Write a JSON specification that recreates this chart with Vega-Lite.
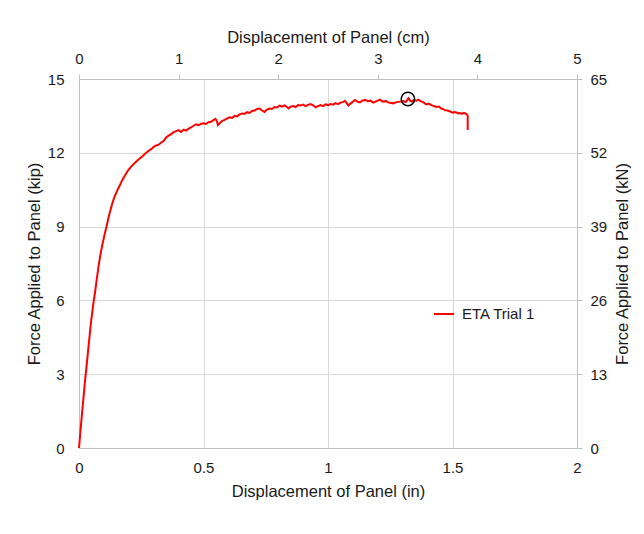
{
  "$schema": "https://vega.github.io/schema/vega-lite/v6.json",
  "width": 498,
  "height": 369,
  "autosize": {"type": "none"},
  "padding": {"left": 79, "top": 79, "right": 67, "bottom": 86},
  "background": "white",
  "config": {
    "font": "Liberation Sans",
    "view": {"stroke": null},
    "axis": {
      "labelFont": "Liberation Sans",
      "titleFont": "Liberation Sans",
      "labelFontSize": 15,
      "titleFontSize": 16.5,
      "titleFontWeight": "normal",
      "labelColor": "#1a1a1a",
      "titleColor": "#1a1a1a",
      "domainColor": "#bfbfbf",
      "tickColor": "#bfbfbf",
      "gridColor": "#d9d9d9",
      "gridWidth": 1,
      "domainWidth": 1,
      "labelOverlap": false
    }
  },
  "datasets": {
    "curve": [
      {"i": 1, "d": 0, "f": 0},
      {"i": 2, "d": 0.006, "f": 0.7},
      {"i": 3, "d": 0.012, "f": 1.4},
      {"i": 4, "d": 0.018, "f": 2.05},
      {"i": 5, "d": 0.024, "f": 2.7},
      {"i": 6, "d": 0.03, "f": 3.3},
      {"i": 7, "d": 0.036, "f": 3.9},
      {"i": 8, "d": 0.042, "f": 4.5},
      {"i": 9, "d": 0.048, "f": 5.1},
      {"i": 10, "d": 0.058, "f": 5.9},
      {"i": 11, "d": 0.064, "f": 6.3},
      {"i": 12, "d": 0.071, "f": 6.83},
      {"i": 13, "d": 0.078, "f": 7.35},
      {"i": 14, "d": 0.085, "f": 7.8},
      {"i": 15, "d": 0.092, "f": 8.18},
      {"i": 16, "d": 0.098, "f": 8.46},
      {"i": 17, "d": 0.105, "f": 8.78},
      {"i": 18, "d": 0.111, "f": 9.02},
      {"i": 19, "d": 0.118, "f": 9.35},
      {"i": 20, "d": 0.125, "f": 9.62},
      {"i": 21, "d": 0.132, "f": 9.88},
      {"i": 22, "d": 0.138, "f": 10.08},
      {"i": 23, "d": 0.145, "f": 10.27},
      {"i": 24, "d": 0.152, "f": 10.42},
      {"i": 25, "d": 0.158, "f": 10.56},
      {"i": 26, "d": 0.165, "f": 10.7},
      {"i": 27, "d": 0.172, "f": 10.86},
      {"i": 28, "d": 0.18, "f": 11.0},
      {"i": 29, "d": 0.188, "f": 11.14},
      {"i": 30, "d": 0.198, "f": 11.3},
      {"i": 31, "d": 0.208, "f": 11.42},
      {"i": 32, "d": 0.22, "f": 11.55},
      {"i": 33, "d": 0.232, "f": 11.67},
      {"i": 34, "d": 0.245, "f": 11.78},
      {"i": 35, "d": 0.255, "f": 11.86},
      {"i": 36, "d": 0.265, "f": 11.96},
      {"i": 37, "d": 0.275, "f": 12.04},
      {"i": 38, "d": 0.285, "f": 12.12},
      {"i": 39, "d": 0.292, "f": 12.16},
      {"i": 40, "d": 0.3, "f": 12.24},
      {"i": 41, "d": 0.31, "f": 12.3},
      {"i": 42, "d": 0.32, "f": 12.33},
      {"i": 43, "d": 0.33, "f": 12.42},
      {"i": 44, "d": 0.34, "f": 12.48},
      {"i": 45, "d": 0.35, "f": 12.62},
      {"i": 46, "d": 0.36, "f": 12.7},
      {"i": 47, "d": 0.37, "f": 12.76},
      {"i": 48, "d": 0.38, "f": 12.84},
      {"i": 49, "d": 0.39, "f": 12.88},
      {"i": 50, "d": 0.4, "f": 12.92},
      {"i": 51, "d": 0.41, "f": 12.85},
      {"i": 52, "d": 0.42, "f": 12.94},
      {"i": 53, "d": 0.43, "f": 12.9},
      {"i": 54, "d": 0.44, "f": 12.98},
      {"i": 55, "d": 0.45, "f": 13.03},
      {"i": 56, "d": 0.46, "f": 13.1},
      {"i": 57, "d": 0.47, "f": 13.16},
      {"i": 58, "d": 0.48, "f": 13.12},
      {"i": 59, "d": 0.49, "f": 13.18},
      {"i": 60, "d": 0.5, "f": 13.2},
      {"i": 61, "d": 0.51, "f": 13.17},
      {"i": 62, "d": 0.52, "f": 13.24},
      {"i": 63, "d": 0.53, "f": 13.26},
      {"i": 64, "d": 0.54, "f": 13.33},
      {"i": 65, "d": 0.548, "f": 13.38},
      {"i": 66, "d": 0.553, "f": 13.3},
      {"i": 67, "d": 0.558, "f": 13.13},
      {"i": 68, "d": 0.565, "f": 13.2},
      {"i": 69, "d": 0.575, "f": 13.3},
      {"i": 70, "d": 0.585, "f": 13.34},
      {"i": 71, "d": 0.595, "f": 13.4},
      {"i": 72, "d": 0.605, "f": 13.44},
      {"i": 73, "d": 0.615, "f": 13.42},
      {"i": 74, "d": 0.625, "f": 13.5},
      {"i": 75, "d": 0.635, "f": 13.48},
      {"i": 76, "d": 0.645, "f": 13.56},
      {"i": 77, "d": 0.655, "f": 13.6},
      {"i": 78, "d": 0.665, "f": 13.58},
      {"i": 79, "d": 0.675, "f": 13.65},
      {"i": 80, "d": 0.685, "f": 13.62},
      {"i": 81, "d": 0.695, "f": 13.7},
      {"i": 82, "d": 0.705, "f": 13.72},
      {"i": 83, "d": 0.715, "f": 13.78},
      {"i": 84, "d": 0.725, "f": 13.8},
      {"i": 85, "d": 0.735, "f": 13.72},
      {"i": 86, "d": 0.745, "f": 13.66},
      {"i": 87, "d": 0.755, "f": 13.76},
      {"i": 88, "d": 0.765, "f": 13.8},
      {"i": 89, "d": 0.775, "f": 13.78},
      {"i": 90, "d": 0.785, "f": 13.86},
      {"i": 91, "d": 0.795, "f": 13.84},
      {"i": 92, "d": 0.805, "f": 13.92},
      {"i": 93, "d": 0.815, "f": 13.88},
      {"i": 94, "d": 0.825, "f": 13.93},
      {"i": 95, "d": 0.835, "f": 13.86},
      {"i": 96, "d": 0.842, "f": 13.8},
      {"i": 97, "d": 0.85, "f": 13.88},
      {"i": 98, "d": 0.86, "f": 13.9},
      {"i": 99, "d": 0.87, "f": 13.86},
      {"i": 100, "d": 0.88, "f": 13.94},
      {"i": 101, "d": 0.89, "f": 13.92},
      {"i": 102, "d": 0.9, "f": 13.96},
      {"i": 103, "d": 0.91, "f": 13.9},
      {"i": 104, "d": 0.92, "f": 13.95},
      {"i": 105, "d": 0.93, "f": 13.98},
      {"i": 106, "d": 0.94, "f": 13.93},
      {"i": 107, "d": 0.95, "f": 13.85},
      {"i": 108, "d": 0.96, "f": 13.9},
      {"i": 109, "d": 0.97, "f": 13.94},
      {"i": 110, "d": 0.98, "f": 13.9},
      {"i": 111, "d": 0.99, "f": 13.97},
      {"i": 112, "d": 1.0, "f": 13.94},
      {"i": 113, "d": 1.01, "f": 13.98},
      {"i": 114, "d": 1.02, "f": 13.96},
      {"i": 115, "d": 1.03, "f": 14.02},
      {"i": 116, "d": 1.04, "f": 13.98},
      {"i": 117, "d": 1.05, "f": 14.04},
      {"i": 118, "d": 1.06, "f": 14.06},
      {"i": 119, "d": 1.068, "f": 14.11},
      {"i": 120, "d": 1.075, "f": 14.02},
      {"i": 121, "d": 1.082, "f": 13.92},
      {"i": 122, "d": 1.09, "f": 14.0},
      {"i": 123, "d": 1.1, "f": 14.08},
      {"i": 124, "d": 1.108, "f": 14.15},
      {"i": 125, "d": 1.118, "f": 14.08},
      {"i": 126, "d": 1.128, "f": 14.05},
      {"i": 127, "d": 1.138, "f": 14.12},
      {"i": 128, "d": 1.149, "f": 14.15},
      {"i": 129, "d": 1.16, "f": 14.1},
      {"i": 130, "d": 1.17, "f": 14.12},
      {"i": 131, "d": 1.182, "f": 14.04},
      {"i": 132, "d": 1.195, "f": 14.1},
      {"i": 133, "d": 1.209, "f": 14.16},
      {"i": 134, "d": 1.22, "f": 14.08},
      {"i": 135, "d": 1.232, "f": 14.1},
      {"i": 136, "d": 1.245, "f": 14.04},
      {"i": 137, "d": 1.262, "f": 14.01},
      {"i": 138, "d": 1.275, "f": 14.06},
      {"i": 139, "d": 1.29, "f": 14.08},
      {"i": 140, "d": 1.303, "f": 14.1},
      {"i": 141, "d": 1.312, "f": 14.06},
      {"i": 142, "d": 1.318, "f": 14.14},
      {"i": 143, "d": 1.323, "f": 14.22},
      {"i": 144, "d": 1.33, "f": 14.12},
      {"i": 145, "d": 1.336, "f": 14.08},
      {"i": 146, "d": 1.345, "f": 14.14},
      {"i": 147, "d": 1.355, "f": 14.12},
      {"i": 148, "d": 1.363, "f": 14.16},
      {"i": 149, "d": 1.372, "f": 14.1},
      {"i": 150, "d": 1.382, "f": 14.06},
      {"i": 151, "d": 1.39, "f": 14.0},
      {"i": 152, "d": 1.396, "f": 13.97},
      {"i": 153, "d": 1.405, "f": 14.0},
      {"i": 154, "d": 1.415, "f": 13.94},
      {"i": 155, "d": 1.425, "f": 13.9},
      {"i": 156, "d": 1.436, "f": 13.86},
      {"i": 157, "d": 1.445, "f": 13.88},
      {"i": 158, "d": 1.455, "f": 13.8},
      {"i": 159, "d": 1.462, "f": 13.78},
      {"i": 160, "d": 1.47, "f": 13.73},
      {"i": 161, "d": 1.48, "f": 13.72},
      {"i": 162, "d": 1.49, "f": 13.68},
      {"i": 163, "d": 1.5, "f": 13.63},
      {"i": 164, "d": 1.508, "f": 13.66},
      {"i": 165, "d": 1.515, "f": 13.64},
      {"i": 166, "d": 1.522, "f": 13.6},
      {"i": 167, "d": 1.53, "f": 13.62},
      {"i": 168, "d": 1.538, "f": 13.58},
      {"i": 169, "d": 1.545, "f": 13.62},
      {"i": 170, "d": 1.552, "f": 13.6},
      {"i": 171, "d": 1.558, "f": 13.56},
      {"i": 172, "d": 1.561, "f": 13.5},
      {"i": 173, "d": 1.561, "f": 13.2},
      {"i": 174, "d": 1.561, "f": 12.93}
    ]
  },
  "layer": [
    {
      "data": {"name": "curve"},
      "transform": [{"calculate": "'ETA Trial 1'", "as": "s"}],
      "mark": {"type": "line", "strokeWidth": 2, "interpolate": "linear"},
      "encoding": {
        "x": {
          "field": "d", "type": "quantitative",
          "scale": {"domain": [0, 2], "nice": false, "zero": false},
          "axis": {
            "orient": "bottom", "values": [0, 0.5, 1, 1.5, 2], "format": "~g",
            "title": "Displacement of Panel (in)", "ticks": false, "tickSize": 0,
            "labelPadding": 12, "titlePadding": 8, "grid": true, "labelFlush": false
          }
        },
        "y": {
          "field": "f", "type": "quantitative",
          "scale": {"domain": [0, 15], "nice": false},
          "axis": {
            "orient": "left", "values": [0, 3, 6, 9, 12, 15],
            "title": "Force Applied to Panel (kip)", "ticks": false, "tickSize": 0,
            "labelPadding": 15, "titlePadding": 5, "grid": true
          }
        },
        "order": {"field": "i", "type": "quantitative"},
        "color": {
          "field": "s", "type": "nominal",
          "scale": {"range": ["#ff0000"]},
          "legend": {
            "orient": "none", "legendX": 354, "legendY": 224, "title": null,
            "symbolType": "stroke", "symbolSize": 400, "symbolStrokeWidth": 2,
            "labelFont": "Liberation Sans", "labelFontSize": 15, "labelColor": "#1a1a1a",
            "labelOffset": 7, "padding": 0
          }
        }
      }
    },
    {
      "data": {"values": [{"d": 1.321, "f": 14.19}]},
      "mark": {"type": "point", "shape": "circle", "filled": false, "stroke": "#000000", "strokeWidth": 1.5, "size": 180, "opacity": 1},
      "encoding": {
        "x": {"field": "d", "type": "quantitative", "scale": {"domain": [0, 2], "nice": false, "zero": false}, "axis": null},
        "y": {"field": "f", "type": "quantitative", "scale": {"domain": [0, 15], "nice": false}, "axis": null}
      }
    },
    {
      "data": {"values": [{"cm": 0, "kn": 0}, {"cm": 5, "kn": 65}]},
      "mark": {"type": "point", "opacity": 0},
      "encoding": {
        "x": {
          "field": "cm", "type": "quantitative",
          "scale": {"domain": [0, 5], "nice": false, "zero": false},
          "axis": {
            "orient": "top", "values": [0, 1, 2, 3, 4, 5], "title": "Displacement of Panel (cm)",
            "grid": false, "ticks": true, "tickSize": 5, "labelPadding": 8, "titlePadding": 6, "labelFlush": false
          }
        },
        "y": {
          "field": "kn", "type": "quantitative",
          "scale": {"domain": [0, 65], "nice": false},
          "axis": {
            "orient": "right", "values": [0, 13, 26, 39, 52, 65], "title": "Force Applied to Panel (kN)",
            "grid": false, "ticks": true, "tickSize": 5, "labelPadding": 8, "titlePadding": 8,
            "titleAngle": -90, "titleBaseline": "top"
          }
        }
      }
    }
  ],
  "resolve": {"scale": {"x": "independent", "y": "independent"}}
}
